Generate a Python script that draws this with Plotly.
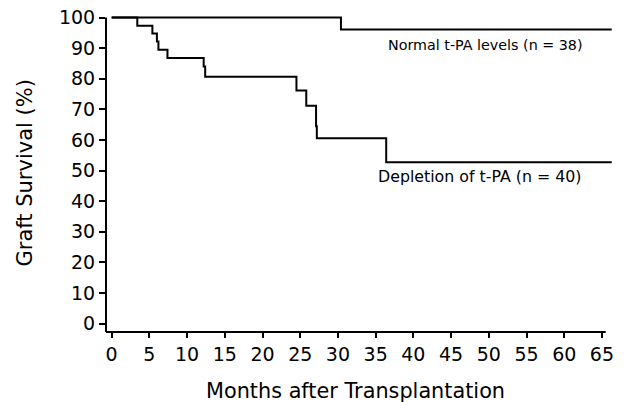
import plotly.graph_objects as go

# Data (Kaplan-Meier style step curves)
normal_months = [0, 30.4, 66.3]
normal_survival = [100, 96.1, 96.1]

depletion_months = [0, 3.4, 5.4, 6.0, 6.2, 7.4, 12.2, 12.4, 24.5, 25.8, 27.1, 27.2, 36.4, 66.3]
depletion_survival = [100, 97.3, 94.8, 92.2, 89.5, 86.8, 84.0, 80.7, 76.2, 71.2, 64.5, 60.6, 52.7, 52.7]

x_ticks = list(range(0, 66, 5))
y_ticks = list(range(0, 101, 10))

label_normal = "Normal t-PA levels (n = 38)"
label_depletion = "Depletion of t-PA (n = 40)"
x_title = "Months after Transplantation"
y_title = "Graft Survival (%)"

FONT = "DejaVu Sans, Verdana, sans-serif"
X_MIN, X_MAX, X_AXIS_END = -0.75, 66.6, 65.5
Y_MIN, Y_MAX, Y_AXIS_END = -2.75, 101.5, 100

fig = go.Figure()
fig.add_trace(go.Scatter(x=normal_months, y=normal_survival, mode="lines",
                         line=dict(color="black", width=2, shape="hv"),
                         showlegend=False, hoverinfo="skip"))
fig.add_trace(go.Scatter(x=depletion_months, y=depletion_survival, mode="lines",
                         line=dict(color="black", width=2, shape="hv"),
                         showlegend=False, hoverinfo="skip"))

fig.update_layout(
    width=628, height=402,
    margin=dict(l=106, r=14, t=13, b=70, autoexpand=False),
    paper_bgcolor="white", plot_bgcolor="white",
    font=dict(family=FONT, color="black"),
    xaxis=dict(range=[X_MIN, X_MAX], tickvals=x_ticks, ticktext=[str(v) for v in x_ticks],
               ticks="outside", ticklen=5, tickwidth=1.5, tickcolor="black", automargin=False,
               showline=False, showgrid=False, zeroline=False, ticklabeloverflow="allow",
               tickfont=dict(size=19, family=FONT, color="black")),
    yaxis=dict(range=[Y_MIN, Y_MAX], tickvals=y_ticks, ticktext=[str(v) for v in y_ticks],
               ticks="outside", ticklen=6, tickwidth=1.5, tickcolor="black", automargin=False,
               showline=False, showgrid=False, zeroline=False, ticklabeloverflow="allow",
               tickfont=dict(size=19, family=FONT, color="black")),
    shapes=[
        dict(type="line", xref="x", yref="paper", x0=X_MIN, x1=X_AXIS_END, y0=0, y1=0,
             line=dict(color="black", width=2)),
        dict(type="line", xref="paper", yref="y", x0=0, x1=0, y0=Y_MIN, y1=Y_AXIS_END,
             line=dict(color="black", width=2)),
    ],
    annotations=[
        dict(text=label_normal, x=49.5, y=91.2, xref="x", yref="y", showarrow=False,
             xanchor="center", yanchor="middle", font=dict(size=14.3, family=FONT, color="black")),
        dict(text=label_depletion, x=48.8, y=48.2, xref="x", yref="y", showarrow=False,
             xanchor="center", yanchor="middle", font=dict(size=15.8, family=FONT, color="black")),
        dict(text=x_title, x=0.4917, y=-0.185, xref="paper", yref="paper", showarrow=False,
             xanchor="center", yanchor="middle", font=dict(size=20.8, family=FONT, color="black")),
        dict(text=y_title, x=-0.159, y=0.4975, xref="paper", yref="paper", showarrow=False,
             textangle=-90, xanchor="center", yanchor="middle",
             font=dict(size=21, family=FONT, color="black")),
    ],
)

fig.write_html("out.html", config={"displayModeBar": False},
               post_script="document.body.style.margin='0';")
